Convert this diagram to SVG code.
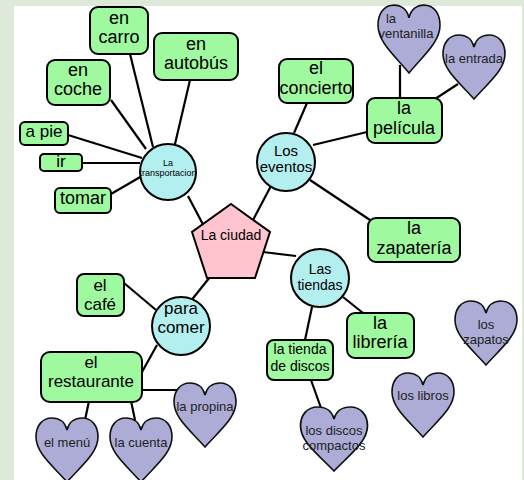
<svg xmlns="http://www.w3.org/2000/svg" width="524" height="480" viewBox="0 0 524 480">
<style>
text{font-family:"Liberation Sans",Arial,sans-serif;fill:#000;text-anchor:middle;dominant-baseline:central}
.box{fill:#9ff99f;stroke:#000;stroke-width:2}
.circ{fill:#b4eff0;stroke:#000;stroke-width:2}
.pent{fill:#ffc4cd;stroke:#000;stroke-width:2}
.conn line{stroke:#000;stroke-width:2.2}
.h text{font-size:13px;fill:#222}
.f18{font-size:18px}
.f17{font-size:17px}
.f14{font-size:14px}
</style>
<defs>
<path id="heart" d="M0,-20 C-2,-28 -8,-32 -15,-32 C-25,-32 -31,-24 -31,-13 C-31,3 -14,16 0,32 C14,16 31,3 31,-13 C31,-24 25,-32 15,-32 C8,-32 2,-28 0,-20 Z" fill="#acacd6" stroke="#111" stroke-width="1.6"/>
</defs>
<rect x="0" y="0" width="524" height="480" fill="#dde9d9"/>
<rect x="14" y="6" width="508" height="474" fill="#fff"/>
<g class="conn" id="connectors">
<line x1="130" y1="54" x2="153" y2="147"/>
<line x1="190" y1="80" x2="175" y2="144"/>
<line x1="111" y1="100" x2="146" y2="149"/>
<line x1="68" y1="135" x2="142" y2="158"/>
<line x1="82" y1="163" x2="140" y2="163"/>
<line x1="111" y1="194" x2="142" y2="176"/>
<line x1="188" y1="196" x2="208" y2="234"/>
<line x1="272" y1="184" x2="252" y2="222"/>
<line x1="294" y1="133" x2="307" y2="103"/>
<line x1="313" y1="145" x2="367" y2="132"/>
<line x1="310" y1="180" x2="370" y2="220"/>
<line x1="400" y1="65" x2="400" y2="99"/>
<line x1="435" y1="99" x2="458" y2="84"/>
<line x1="263" y1="252" x2="296" y2="256"/>
<line x1="210" y1="277" x2="190" y2="302"/>
<line x1="343" y1="297" x2="363" y2="313"/>
<line x1="312" y1="307" x2="305" y2="340"/>
<line x1="311" y1="380" x2="321" y2="408"/>
<line x1="124" y1="283" x2="156" y2="310"/>
<line x1="157" y1="345" x2="142" y2="372"/>
<line x1="142" y1="390" x2="178" y2="390"/>
<line x1="89" y1="401" x2="85" y2="420"/>
<line x1="131" y1="401" x2="135" y2="420"/>
</g>
<g id="ciudad"><polygon class="pent" points="231,204 270,232 255,278 207,278 192,232"/><text class="f14" x="231" y="235">La ciudad</text></g>
<g id="transportacion"><circle class="circ" cx="168" cy="172" r="28"/><text x="168" y="163" style="font-size:9px">La</text><text x="168" y="173" style="font-size:9px">transportacion</text></g>
<g id="eventos"><circle class="circ" cx="286" cy="162" r="29"/><text x="286" y="150" style="font-size:15px">Los</text><text x="286" y="166" style="font-size:15px">eventos</text></g>
<g id="tiendas"><circle class="circ" cx="320" cy="278" r="29"/><text class="f14" x="320" y="269">Las</text><text class="f14" x="320" y="285">tiendas</text></g>
<g id="comer"><circle class="circ" cx="181" cy="326" r="29"/><text class="f17" x="181" y="308">para</text><text class="f17" x="181" y="327">comer</text></g>
<g id="carro"><rect class="box" x="90" y="7" width="58" height="47" rx="8"/><text class="f18" x="119" y="18">en</text><text class="f18" x="119" y="37">carro</text></g>
<g id="autobus"><rect class="box" x="154" y="33" width="84" height="47" rx="8"/><text class="f18" x="196" y="44">en</text><text class="f18" x="196" y="63">autobús</text></g>
<g id="coche"><rect class="box" x="47" y="60" width="63" height="45" rx="8"/><text class="f18" x="78" y="70">en</text><text class="f18" x="78" y="89">coche</text></g>
<g id="apie"><rect class="box" x="20" y="122" width="48" height="23" rx="5"/><text class="f17" x="44" y="131">a pie</text></g>
<g id="ir"><rect class="box" x="40" y="154" width="42" height="17" rx="4"/><text class="f17" x="61" y="161">ir</text></g>
<g id="tomar"><rect class="box" x="55" y="188" width="56" height="25" rx="5"/><text class="f18" x="83" y="198">tomar</text></g>
<g id="concierto"><rect class="box" x="279" y="59" width="74" height="44" rx="8"/><text class="f18" x="316" y="68">el</text><text class="f18" x="316" y="88">concierto</text></g>
<g id="pelicula"><rect class="box" x="367" y="98" width="75" height="45" rx="8"/><text class="f18" x="404" y="108">la</text><text class="f18" x="404" y="128">película</text></g>
<g id="zapateria"><rect class="box" x="368" y="218" width="92" height="44" rx="8"/><text class="f18" x="414" y="228">la</text><text class="f18" x="414" y="248">zapatería</text></g>
<g id="tiendadiscos"><rect class="box" x="267" y="340" width="66" height="40" rx="7"/><text class="f14" x="300" y="349">la tienda</text><text class="f14" x="300" y="366">de discos</text></g>
<g id="libreria"><rect class="box" x="347" y="313" width="67" height="45" rx="8"/><text class="f18" x="380" y="323">la</text><text class="f18" x="380" y="342">librería</text></g>
<g id="cafe"><rect class="box" x="77" y="274" width="47" height="42" rx="7"/><text class="f17" x="100" y="285">el</text><text class="f17" x="100" y="304">café</text></g>
<g id="restaurante"><rect class="box" x="41" y="352" width="101" height="50" rx="9"/><text class="f17" x="91" y="362">el</text><text class="f17" x="91" y="381">restaurante</text></g>
<g id="ventanilla" class="h"><use href="#heart" transform="translate(409,39) scale(1,1.06)"/><text x="391" y="18">la</text><text x="406" y="33">ventanilla</text></g>
<g id="entrada" class="h"><use href="#heart" transform="translate(474,67)"/><text x="474" y="58">la entrada</text></g>
<g id="zapatos" class="h"><use href="#heart" transform="translate(486,333)"/><text x="486" y="324">los</text><text x="486" y="339">zapatos</text></g>
<g id="libros" class="h"><use href="#heart" transform="translate(423,405)"/><text x="423" y="395">los libros</text></g>
<g id="discos" class="h"><use href="#heart" transform="translate(334,439) scale(1.08,1)"/><text x="334" y="430">los discos</text><text x="334" y="445">compactos</text></g>
<g id="propina" class="h"><use href="#heart" transform="translate(205,415)"/><text x="205" y="406">la propina</text></g>
<g id="menu" class="h"><use href="#heart" transform="translate(67,450)"/><text x="67" y="442">el menú</text></g>
<g id="cuenta" class="h"><use href="#heart" transform="translate(141,450)"/><text x="141" y="442">la cuenta</text></g>
</svg>
